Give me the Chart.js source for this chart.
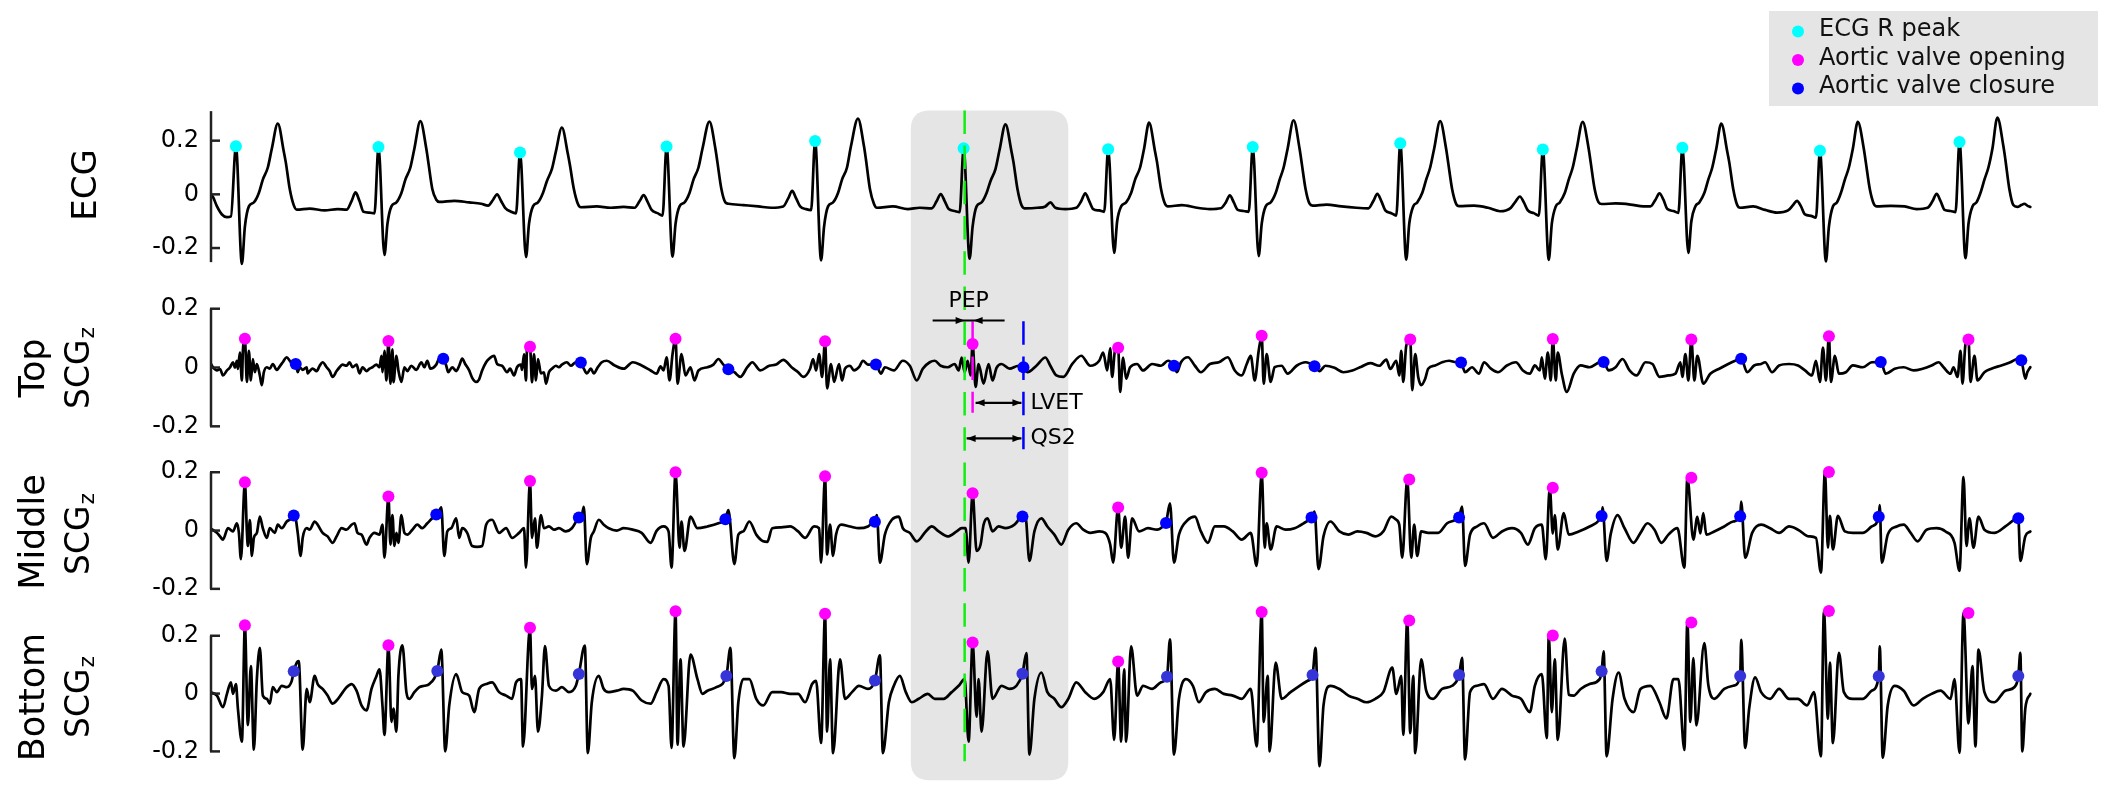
<!DOCTYPE html>
<html><head><meta charset="utf-8">
<script src="https://cdn.jsdelivr.net/npm/chart.js@4.4.1/dist/chart.umd.min.js"></script>
<style>html,body{margin:0;padding:0;background:#fff;overflow:hidden}#wrap{width:2126px;height:804px;position:relative}</style>
</head><body><div id="wrap"><canvas id="c" width="2126" height="804"></canvas></div>
<script>
// ---------------- DATA (time in samples, amplitude in signal units) ----------------
const sampleRange = [0, 1916];
const tickValues = [-0.2, 0, 0.2];
const panelNames = ['ECG', 'Top', 'Middle', 'Bottom'];
const legendLabels = ['ECG R peak', 'Aortic valve opening', 'Aortic valve closure'];
const annotationLabels = ['PEP', 'LVET', 'QS2'];

const rPeakSamples = [26,169,311,458,607,756,901,1046,1194,1337,1477,1615,1755];
const rPeakValues  = [.179,.176,.156,.178,.199,.172,.168,.176,.190,.167,.174,.162,.195];

const topAoSamples = [35,179,321,467,617,765,911,1055,1204,1347,1486,1624,1764];
const topAoValues  = [.098,.090,.071,.098,.089,.080,.067,.108,.095,.097,.095,.106,.095];
const topAcSamples = [86,234,372,520,668,816,967,1108,1255,1398,1536,1676,1817];
const topAcValues  = [.012,.030,.017,-.006,.010,.001,.006,.004,.017,.019,.030,.019,.025];

const midAoSamples = [35,179,321,467,617,765,911,1055,1203,1347,1486,1624];
const midAoValues  = [.166,.117,.170,.200,.186,.128,.079,.198,.175,.147,.181,.201];
const midAcSamples = [84,227,370,517,667,815,959,1105,1253,1396,1535,1674,1814];
const midAcValues  = [.052,.055,.045,.039,.030,.048,.026,.045,.045,.050,.049,.047,.042];

const botAoSamples = [35,179,321,467,617,765,911,1055,1203,1347,1486,1624,1764];
const botAoValues  = [.236,.167,.228,.285,.276,.177,.111,.282,.253,.201,.246,.286,.279];
const botAcSamples = [84,228,370,518,667,815,960,1106,1253,1396,1535,1674,1814];
const botAcValues  = [.077,.078,.068,.061,.045,.069,.058,.064,.064,.077,.061,.060,.061];

const ecgSignal = [
[0,0],[3,-.01],[7,-.045],[12,-.075],[17,-.085],[21,-.082],
[26,.179],[32,-.259],[35,-.12],[39,-.045],[44,-.03],[49,.005],[53,.055],[58,.10],[62,.17],[68,.264],[74,.16],[76,.12],[80,.02],[84,-.04],[87,-.057],[100,-.053],[115,-.06],[128,-.055],[137,-.057],[142,-.025],[146,.007],[150,-.025],[154,-.065],[160,-.068],[165,-.071],
[169,.176],[175,-.226],[178,-.11],[182,-.045],[187,-.03],[192,.005],[196,.055],[201,.10],[205,.17],[211,.273],[217,.17],[219,.12],[223,.02],[227,-.02],[230,-.028],[245,-.024],[260,-.03],[272,-.035],[279,-.042],[284,-.02],[288,0],[292,-.025],[296,-.05],[302,-.065],[307,-.071],
[311,.156],[317,-.234],[320,-.11],[324,-.045],[329,-.03],[334,.005],[338,.05],[343,.095],[347,.16],[353,.249],[359,.15],[361,.11],[365,.02],[369,-.035],[372,-.048],[388,-.045],[402,-.05],[415,-.047],[426,-.05],[431,-.025],[435,-.003],[439,-.028],[443,-.058],[449,-.07],[454,-.079],
[458,.178],[464,-.232],[467,-.11],[471,-.045],[476,-.03],[481,.005],[485,.055],[490,.10],[494,.17],[501,.271],[507,.17],[509,.12],[513,.02],[517,-.03],[520,-.035],[535,-.04],[550,-.045],[563,-.05],[575,-.045],[580,-.015],[584,.013],[588,-.015],[592,-.045],[598,-.055],[603,-.059],
[607,.199],[613,-.246],[616,-.12],[620,-.045],[625,-.03],[630,.005],[634,.055],[639,.10],[643,.18],[650,.282],[656,.18],[658,.13],[662,.02],[666,-.035],[669,-.05],[685,-.045],[700,-.055],[712,-.05],[724,-.052],[729,-.025],[733,.001],[737,-.025],[741,-.055],[747,-.062],[752,-.066],
[756,.172],[762,-.24],[765,-.12],[769,-.045],[774,-.03],[779,.005],[783,.05],[788,.095],[792,.165],[798,.261],[804,.16],[806,.12],[810,.02],[814,-.04],[817,-.052],[830,-.05],[838,-.045],[843,-.03],[848,-.05],[858,-.055],[869,-.05],[874,-.025],[878,.004],[882,-.025],[886,-.055],[892,-.06],[897,-.065],
[901,.168],[907,-.218],[910,-.1],[914,-.045],[919,-.03],[924,.005],[928,.055],[933,.10],[937,.17],[942,.267],[948,.16],[950,.12],[954,.02],[958,-.035],[961,-.045],[975,-.04],[990,-.05],[1003,-.055],[1014,-.052],[1019,-.03],[1023,-.004],[1027,-.03],[1031,-.058],[1037,-.062],[1042,-.065],
[1046,.176],[1052,-.23],[1055,-.11],[1059,-.045],[1064,-.03],[1069,.005],[1073,.055],[1077,.10],[1081,.17],[1087,.276],[1093,.17],[1095,.12],[1099,.02],[1103,-.035],[1106,-.042],[1120,-.038],[1135,-.045],[1150,-.05],[1162,-.052],[1167,-.025],[1171,.002],[1175,-.025],[1179,-.06],[1185,-.07],[1190,-.079],
[1194,.19],[1200,-.243],[1203,-.11],[1207,-.045],[1211,-.03],[1216,.005],[1220,.055],[1224,.10],[1228,.17],[1234,.273],[1240,.17],[1242,.12],[1246,.02],[1250,-.035],[1253,-.044],[1268,-.042],[1282,-.05],[1294,-.063],[1300,-.06],[1305,-.05],[1310,-.025],[1314,-.008],[1318,-.03],[1322,-.06],[1328,-.07],[1333,-.079],
[1337,.167],[1343,-.244],[1346,-.11],[1350,-.045],[1354,-.03],[1359,.005],[1363,.055],[1367,.10],[1371,.17],[1377,.27],[1383,.17],[1385,.12],[1389,.02],[1393,-.03],[1396,-.036],[1410,-.034],[1425,-.038],[1438,-.045],[1445,-.045],[1450,-.02],[1454,.004],[1458,-.02],[1462,-.055],[1468,-.062],[1473,-.069],
[1477,.174],[1483,-.218],[1486,-.1],[1490,-.045],[1494,-.03],[1499,.005],[1503,.055],[1507,.10],[1511,.17],[1516,.264],[1522,.16],[1524,.12],[1528,.02],[1532,-.04],[1535,-.05],[1548,-.045],[1560,-.058],[1572,-.068],[1583,-.06],[1588,-.04],[1592,-.024],[1596,-.045],[1600,-.075],[1606,-.08],[1611,-.087],
[1615,.162],[1621,-.25],[1624,-.12],[1628,-.045],[1632,-.03],[1636,.005],[1640,.055],[1644,.10],[1648,.17],[1653,.27],[1659,.17],[1661,.12],[1665,.02],[1669,-.035],[1672,-.045],[1686,-.043],[1700,-.045],[1712,-.055],[1723,-.05],[1728,-.025],[1732,.002],[1736,-.025],[1740,-.058],[1746,-.062],[1751,-.066],
[1755,.195],[1761,-.238],[1764,-.11],[1768,-.045],[1772,-.03],[1776,.005],[1780,.055],[1784,.10],[1788,.17],[1793,.286],[1799,.18],[1801,.13],[1805,.02],[1809,-.04],[1813,-.047],[1817,-.04],[1820,-.035],[1823,-.042],[1826,-.047]
];

const topScgSignal = [
[0,.018],[3,.001],[7,-.01],[10,-.005],[13,-.027],[17,-.01],[20,0],[23,.018],[25,0],[27,.023],[28,-.005],[30,.051],[32,-.044],[33,.057],[35,.098],[37,-.049],[39,.057],[41,-.044],[43,.029],[45,-.016],[47,.012],[50,-.027],[52,-.06],[54,-.016],[57,.001],[60,-.004],[63,.012],[67,-.008],[70,.004],[73,.018],[77,.035],[80,.023],[83,.01],[86,.012],[88,-.016],[90,.001],[93,-.008],[97,.001],[98,-.02],[100,-.012],[103,-.004],[107,-.012],[110,.006],[113,.018],[117,.001],[120,-.012],[123,-.032],[127,-.012],[130,.001],[133,.01],[137,.006],[140,.018],[143,.001],[147,.01],[150,-.02],[153,.001],[157,-.012],[160,-.004],[163,.001],[167,.01],[170,.001],
[172,.04],[173,-.016],[175,.057],[177,-.044],[179,.09],[181,-.055],[183,.062],[184,-.05],[187,.04],[189,-.01],[192,-.049],[195,.001],[198,-.012],[202,.006],[207,-.008],[212,.018],[215,.001],[218,.023],[221,-.004],[227,.01],[230,.03],[234,.03],[237,.006],[239,-.016],[243,.001],[247,-.012],[250,.006],[253,.03],[256,.012],[260,-.01],[263,-.035],[267,-.049],[270,-.04],[273,-.01],[277,.018],[280,.03],[285,.04],[288,.012],[293,.006],[298,-.016],[301,-.004],[305,-.027],[308,.001],[312,.01],[313,-.008],[315,.045],[317,-.044],[318,.062],[321,.071],[323,-.05],[325,.045],[327,-.044],[329,.029],[332,-.02],[335,-.016],[337,-.055],[340,-.016],[343,-.004],[347,.006],[350,.001],[353,.01],[358,.018],[362,.006],[367,.018],[372,.016],[375,-.004],[378,-.02],[382,-.004],[385,-.02],[389,.001],[393,.018],[398,.023],[406,.007],[415,-.004],[424,.018],[433,.007],[442,-.01],[448,-.021],[452,.004],[455,-.01],[458,.035],[461,-.044],[464,.046],[467,.098],[469,-.055],[473,.046],[477,-.027],[482,.001],[486,-.044],[490,-.01],[499,.001],[505,.01],[510,.029],[515,.01],[520,-.006],[526,-.016],[532,-.032],[539,.001],[544,.018],[552,-.01],[561,.006],[568,.01],[575,.026],[584,-.001],[590,-.016],[595,-.032],[602,-.004],[605,.029],[608,-.01],[611,.046],[614,-.032],[617,.089],[619,-.071],[623,.012],[626,-.049],[631,.012],[634,-.044],[637,-.004],[642,.006],[646,-.01],[651,.001],[655,.023],[660,.01],[668,.01],[673,-.021],[677,.001],[686,-.01],[695,.023],[702,.006],[709,-.044],[715,-.004],[722,.018],[727,.023],[733,.006],[740,.001],[747,.012],[751,-.01],[754,.034],[757,-.016],[760,.023],[763,-.027],[765,.08],[768,-.066],[771,.012],[776,-.055],[781,.012],[785,-.044],[789,-.001],[794,.012],[802,-.004],[811,.006],[816,.001],[820,-.016],[829,.006],[838,.034],[843,.006],[849,-.027],[856,-.032],[865,.012],[874,.04],[883,.006],[892,.023],[896,.051],[900,-.01],[903,.065],[905,-.032],[908,.062],[911,.067],[913,-.083],[916,.034],[919,-.038],[923,.001],[930,.012],[936,-.01],[945,.012],[954,.006],[961,.023],[967,.006],[970,-.016],[974,.018],[981,.035],[988,.006],[994,-.016],[1003,.012],[1012,.018],[1021,.035],[1028,-.01],[1035,-.027],[1040,.012],[1044,.04],[1048,-.044],[1052,.057],[1055,.108],[1057,-.055],[1060,.046],[1064,-.049],[1068,.001],[1075,.006],[1081,-.021],[1090,.006],[1099,.018],[1108,.004],[1113,-.012],[1119,.006],[1128,-.001],[1137,-.016],[1146,-.01],[1155,.003],[1164,.015],[1173,.006],[1180,.027],[1184,-.005],
[1190,.023],[1193,-.027],[1195,.057],[1197,-.049],[1200,.074],[1204,.095],[1206,-.077],[1209,.046],[1212,-.032],[1215,-.06],[1219,-.038],[1222,-.004],[1229,.007],[1236,.018],[1243,.023],[1250,.018],[1255,.017],[1259,-.016],[1266,.001],[1273,-.021],[1278,.018],[1285,-.004],[1292,-.016],[1301,.007],[1310,.018],[1317,-.01],[1324,-.021],[1329,.007],[1334,-.01],[1336,.035],[1339,-.038],[1342,.051],[1345,-.044],[1347,.097],[1350,-.044],[1352,.051],[1356,-.021],[1361,-.083],[1368,-.021],[1375,.007],[1384,.001],[1394,.018],[1398,.019],[1403,-.01],[1410,.001],[1417,.029],[1424,-.01],[1431,-.027],[1440,.018],[1447,.012],[1454,-.032],[1463,-.027],[1470,-.021],[1475,.018],[1477,-.032],[1480,.046],[1483,-.044],[1486,.095],[1489,-.044],[1492,.04],[1498,-.055],[1505,-.021],[1514,-.004],[1523,.012],[1530,.023],[1536,.03],[1542,-.016],[1549,.007],[1556,.012],[1560,.018],[1567,-.016],[1574,.007],[1584,.012],[1593,.007],[1600,-.01],[1607,-.027],[1611,.023],[1615,-.049],[1618,.068],[1621,-.044],[1624,.106],[1626,-.049],[1630,.04],[1634,-.021],[1641,-.016],[1648,.007],[1658,.001],[1667,.018],[1676,.019],[1681,-.021],[1690,-.004],[1699,.001],[1709,-.01],[1718,-.004],[1727,.007],[1734,.018],[1739,.001],[1746,-.021],[1749,.001],[1753,-.032],[1756,.057],[1758,-.055],[1761,.079],[1764,.095],[1766,-.049],[1770,.04],[1773,-.044],[1780,-.016],[1787,-.004],[1797,.007],[1806,.018],[1813,.029],[1817,.025],[1821,-.038],[1823,-.016],[1826,.001]
];

const midScgSignal = [
[0,.008],[4,0],[7,-.008],[10,-.02],[13,-.031],[18,.008],[23,-.003],[27,.025],[29,-.008],[31,-.098],[35,.166],[37,-.003],[38,-.053],[40,.036],[42,-.087],[44,-.025],[47,-.008],[50,.048],[53,.008],[57,-.025],[60,.008],[65,-.008],[68,.02],[72,.008],[77,.031],[82,.042],[84,.052],[86,.04],[88,-.008],[91,-.087],[93,-.025],[97,.008],[100,.003],[105,.031],[108,.02],[113,-.008],[118,-.02],[123,-.042],[127,-.02],[132,.008],[137,.003],[142,.02],[145,.025],[148,-.008],[152,-.014],[157,-.048],[160,-.025],[165,-.008],[170,-.014],[173,.02],[175,-.093],[179,.117],[181,-.048],[183,.053],[185,-.053],[187,-.008],[189,-.042],[192,.053],[195,-.008],[198,-.014],[203,.003],[208,.02],[213,.008],[218,.025],[223,.042],[227,.055],[229,.06],[232,.08],[235,-.087],[238,-.003],[242,.008],[247,.042],[250,-.025],[253,.008],[258,-.008],[263,-.053],[268,-.056],[273,-.053],[277,.02],[283,.037],[290,-.008],[297,.008],[303,-.025],[310,-.008],[315,.008],[317,-.127],[321,.17],[323,-.025],[326,.042],[328,-.059],[332,.053],[335,.008],[340,.014],[345,.003],[350,.008],[357,-.003],[363,.008],[370,.045],[373,.053],[375,.081],[378,-.115],[382,-.025],[385,-.003],[390,.037],[395,.02],[400,.008],[408,0],[415,.008],[424,.003],[433,-.008],[442,-.042],[448,-.001],[455,.014],[460,-.003],[463,-.127],[467,.2],[471,-.059],[473,.031],[476,-.07],[482,.048],[489,.008],[499,.014],[510,.025],[517,.039],[520,.07],[526,-.115],[530,-.014],[535,-.003],[541,.031],[548,-.014],[555,-.037],[559,-.039],[564,.008],[573,.011],[582,.014],[590,-.003],[597,-.025],[606,.014],[611,.008],[613,-.11],[617,.186],[619,-.082],[622,.02],[625,-.087],[628,-.014],[633,.02],[642,.014],[651,.008],[660,.014],[664,.025],[667,.03],[669,.053],[672,-.11],[677,-.014],[684,.037],[691,.048],[695,.008],[702,-.008],[709,-.037],[718,-.003],[724,.014],[731,-.003],[740,-.02],[749,-.003],[754,.008],[758,.008],[761,-.11],[765,.128],[769,-.07],[773,-.048],[776,.02],[780,.042],[785,-.003],[791,.014],[798,.008],[807,.02],[815,.048],[818,.048],[822,-.104],[827,-.003],[834,.042],[840,.014],[847,-.014],[854,-.048],[861,.003],[869,.025],[876,.003],[883,-.008],[892,-.003],[898,-.008],[903,-.048],[906,-.11],[911,.079],[914,-.059],[918,.048],[921,-.093],[925,.042],[932,-.003],[941,.008],[950,.003],[956,.014],[959,.026],[963,.093],[967,-.11],[972,-.014],[981,.037],[988,.048],[994,-.003],[1001,-.042],[1008,.014],[1017,.014],[1026,-.003],[1035,-.031],[1044,-.008],[1050,-.121],[1055,.198],[1058,-.059],[1060,.025],[1064,-.065],[1070,.014],[1079,.003],[1088,.008],[1097,.025],[1105,.045],[1108,.065],[1112,-.132],[1117,-.02],[1124,.031],[1133,-.003],[1142,-.014],[1151,-.003],[1160,-.008],[1169,-.02],[1177,-.003],[1185,.048],
[1190,.037],[1193,.02],[1196,-.093],[1201,.175],[1205,-.093],[1208,.02],[1211,-.087],[1215,-.003],[1222,-.008],[1232,-.008],[1241,.025],[1250,.037],[1253,.045],[1256,.082],[1259,-.121],[1264,-.014],[1271,.014],[1278,.025],[1287,-.025],[1296,-.003],[1306,.008],[1315,-.008],[1322,-.048],[1329,.008],[1336,.02],[1340,-.098],[1344,.147],[1347,-.01],[1349,.053],[1352,-.065],[1358,.06],[1363,-.014],[1373,-.003],[1384,.014],[1394,.037],[1396,.05],[1397,.08],[1401,-.104],[1405,-.014],[1412,.053],[1419,.008],[1428,-.042],[1435,-.008],[1442,.025],[1449,.003],[1456,-.042],[1463,-.014],[1472,.008],[1479,-.127],[1482,.181],[1488,-.031],[1492,.047],[1495,-.01],[1498,.06],[1501,-.014],[1509,-.003],[1519,.014],[1528,.031],[1535,.049],[1536,.099],[1540,-.093],[1547,-.008],[1556,.02],[1565,.008],[1574,-.008],[1584,.014],[1593,.003],[1604,-.02],[1611,-.025],[1616,-.144],[1620,.201],[1623,-.059],[1625,.05],[1628,-.065],[1633,.05],[1640,-.003],[1648,-.008],[1658,-.008],[1667,.014],[1674,.047],[1675,.087],[1677,-.11],[1683,-.014],[1692,.014],[1699,.02],[1706,-.008],[1713,-.037],[1722,.003],[1732,.008],[1741,-.003],[1750,-.042],[1755,-.138],[1759,.183],[1762,-.053],[1765,.042],[1769,-.059],[1774,.048],[1780,.003],[1790,-.008],[1801,.014],[1810,.037],[1814,.042],[1816,-.104],[1821,-.02],[1826,-.003]
];

const botScgSignal = [
[0,.005],[7,-.007],[13,-.047],[17,-.001],[21,.039],[23,-.001],[26,.033],[28,-.052],[32,-.166],[35,.236],[38,-.109],[41,.095],[44,-.194],[47,.05],[50,.158],[53,-.007],[57,-.018],[60,-.035],[63,.022],[67,.005],[72,.027],[77,.022],[82,.044],[84,.077],[87,.107],[89,.112],[93,-.194],[97,.016],[100,-.03],[105,.061],[108,.033],[113,.016],[118,-.007],[123,-.035],[127,-.024],[132,-.001],[137,.022],[142,.033],[147,.01],[152,-.041],[157,-.058],[162,.016],[167,.061],[170,.084],[173,-.041],[175,-.143],[179,.167],[182,-.098],[184,-.052],[187,-.132],[189,.061],[193,.167],[197,.005],[200,-.018],[205,.005],[210,.022],[215,.027],[220,.033],[228,.078],[232,.152],[236,-.2],[240,-.041],[247,.067],[253,.005],[260,-.007],[265,-.064],[270,.016],[277,.033],[283,.039],[290,.005],[297,-.007],[303,-.018],[307,.039],[312,.05],[314,-.183],[321,.228],[323,.016],[326,.061],[329,-.132],[333,-.007],[336,.164],[340,.027],[347,.01],[353,.022],[360,.005],[367,.027],[370,.068],[376,.166],[379,-.206],[383,-.03],[390,.061],[395,.016],[400,.005],[408,.01],[415,.016],[424,.01],[433,-.024],[442,-.035],[448,.005],[455,.05],[460,.027],[463,-.188],[467,.285],[469,-.177],[472,.118],[475,-.183],[482,.135],[489,.05],[494,-.001],[499,.01],[508,.022],[518,.061],[522,.158],[526,-.223],[530,-.03],[535,.05],[541,.05],[548,-.018],[555,-.041],[564,.005],[573,.005],[582,-.001],[590,-.001],[597,-.03],[604,.033],[608,.044],[613,-.171],[617,.276],[619,-.132],[622,.118],[625,-.206],[632,.118],[637,-.018],[644,.005],[651,.027],[660,.016],[667,.045],[672,.132],[675,-.206],[681,-.03],[686,.027],[692,.061],[698,.005],[704,-.03],[711,-.018],[720,-.001],[727,-.018],[736,-.018],[744,.005],[751,.027],[757,.05],[761,-.166],[765,.177],[769,-.08],[771,.05],[774,-.132],[780,.146],[785,-.018],[794,.027],[802,.016],[809,.027],[815,.069],[819,.14],[822,-.211],[827,-.018],[834,.073],[840,.005],[847,-.018],[854,-.047],[861,-.018],[869,.039],[878,.005],[887,-.018],[896,.005],[903,.05],[907,-.16],[911,.111],[914,-.166],[917,.084],[919,-.166],[924,.163],[930,-.007],[936,.027],[945,.016],[954,.039],[960,.058],[963,.188],[967,-.211],[972,-.018],[979,.05],[986,.027],[992,-.03],[999,.005],[1008,.016],[1017,-.001],[1026,-.007],[1035,-.018],[1044,.016],[1050,-.183],[1055,.282],[1057,-.098],[1061,.061],[1063,-.2],[1069,.107],[1075,-.018],[1084,.005],[1093,.027],[1101,.044],[1106,.064],[1109,.158],[1113,-.251],[1117,-.041],[1124,.027],[1133,.016],[1142,-.007],[1151,-.018],[1160,-.03],[1169,-.018],[1177,.005],[1186,.09],
[1190,-.001],[1195,.061],[1197,-.143],[1201,.253],[1204,-.137],[1207,.061],[1209,-.206],[1215,.118],[1220,.01],[1227,-.018],[1236,.016],[1246,.027],[1253,.064],[1256,.124],[1259,-.228],[1264,.005],[1271,.027],[1278,.033],[1287,-.018],[1296,.016],[1306,-.007],[1315,-.018],[1324,-.064],[1329,.027],[1336,.067],[1341,-.154],[1343,.2],[1346,-.064],[1349,.118],[1352,-.16],[1359,.19],[1363,-.004],[1368,-.007],[1375,.016],[1384,.033],[1394,.05],[1396,.077],[1398,.146],[1401,-.217],[1407,-.018],[1413,.073],[1419,-.018],[1428,-.064],[1435,.016],[1445,.027],[1454,-.03],[1461,-.086],[1468,.05],[1473,.05],[1479,-.195],[1482,.248],[1485,-.098],[1488,.123],[1491,-.11],[1499,.175],[1503,.03],[1509,-.018],[1519,.016],[1528,.027],[1535,.061],[1536,.186],[1540,-.188],[1544,-.052],[1550,.056],[1556,.005],[1565,-.018],[1574,.016],[1584,-.018],[1593,-.018],[1602,-.041],[1609,.005],[1616,-.217],[1619,.285],[1623,-.087],[1625,.107],[1628,-.171],[1634,.141],[1639,.005],[1648,-.018],[1658,-.018],[1667,.01],[1674,.06],[1675,.163],[1678,-.222],[1683,-.041],[1690,.027],[1699,.01],[1709,-.041],[1718,-.018],[1727,-.001],[1736,.01],[1746,-.018],[1750,.05],[1755,-.205],[1759,.279],[1764,-.103],[1768,.095],[1771,-.183],[1774,.152],[1780,.005],[1790,-.03],[1801,.01],[1810,.022],[1814,.061],[1816,.141],[1818,-.2],[1821,-.052],[1826,-.001]
];

// annotated beat and highlighted window (samples)
const annotatedBeat = 5;
const windowSamples = [703, 861];

// ---------------- LAYOUT / STYLE ----------------
const FONT = "'DejaVu Sans', 'Liberation Sans', sans-serif";
const H = 804;
const panels = {
  yECG: {zero: 191.2, k: 272.5, spine: [-0.2525, 0.31]},
  yTop: {zero: 367,   k: 298.5, spine: [-0.2, 0.2]},
  yMid: {zero: 532.5, k: 296,   spine: [-0.2, 0.2]},
  yBot: {zero: 698,   k: 293.5, spine: [-0.2, 0.2]}
};
const COL = {cyan: '#00ffff', mag: '#ff00ff', blue: '#0000ff', blueB: '#3434d8', green: '#11ee11', gray: '#e5e5e5', axis: '#222222'};

function fmt(v) { return Math.abs(v) < 1e-9 ? '0' : v.toFixed(1); }
function yAxis(id) {
  const p = panels[id];
  return {
    type: 'linear', position: 'left', min: (p.zero - H) / p.k, max: p.zero / p.k,
    grid: {display: false, drawTicks: false}, border: {display: false},
    afterBuildTicks: s => { s.ticks = tickValues.map(v => ({value: v})); },
    afterFit: s => { s.width = 0; s.paddingTop = 0; s.paddingBottom = 0; s._computeLabelArea = () => null; },
    ticks: {padding: 11, color: '#000', font: {family: FONT, size: 24}, callback: v => fmt(v), autoSkip: false}
  };
}
function lineDs(data, axis) {
  return {type: 'line', data, yAxisID: axis, xAxisID: 'x', borderColor: '#000', borderWidth: 2.7,
    pointRadius: 0, cubicInterpolationMode: 'monotone', fill: false, order: 2,
    borderJoinStyle: 'round', borderCapStyle: 'round'};
}
function markDs(xs, ys, axis, color) {
  return {type: 'line', showLine: false, data: xs.map((x, i) => [x, ys[i]]), yAxisID: axis, xAxisID: 'x',
    pointRadius: 6, pointBackgroundColor: color, pointBorderColor: color, pointBorderWidth: 0, order: 1};
}

function arrowHead(ctx, x, y, dir) {
  ctx.beginPath(); ctx.moveTo(x, y); ctx.lineTo(x - dir * 9, y - 3.5); ctx.lineTo(x - dir * 9, y + 3.5); ctx.closePath(); ctx.fill();
}
function vText(ctx, text, bx, cy, size) {
  ctx.save(); ctx.translate(bx, cy); ctx.rotate(-Math.PI / 2);
  ctx.font = size + 'px ' + FONT; ctx.textAlign = 'center'; ctx.textBaseline = 'alphabetic';
  ctx.fillText(text, 0, 0); ctx.restore();
}
function vScg(ctx, bx, cy) {
  ctx.save();
  ctx.font = '33px ' + FONT; const w1 = ctx.measureText('SCG').width;
  ctx.font = '22px ' + FONT; const w2 = ctx.measureText('z').width;
  const tot = w1 + w2 + 1;
  ctx.translate(bx, cy); ctx.rotate(-Math.PI / 2);
  ctx.textAlign = 'left'; ctx.textBaseline = 'alphabetic';
  ctx.font = '33px ' + FONT; ctx.fillText('SCG', -tot / 2, 0);
  ctx.font = '22px ' + FONT; ctx.fillText('z', -tot / 2 + w1 + 1, 5);
  ctx.restore();
}

const decor = {
  id: 'decor',
  beforeDatasetsDraw(chart) {
    const {ctx, scales} = chart; const sx = scales.x;
    const x1 = sx.getPixelForValue(windowSamples[0]), x2 = sx.getPixelForValue(windowSamples[1]);
    const y1 = scales.yECG.getPixelForValue(0.3127), y2 = scales.yBot.getPixelForValue(-0.30);
    const r = 19;
    ctx.save(); ctx.fillStyle = COL.gray; ctx.beginPath();
    ctx.moveTo(x1 + r, y1); ctx.lineTo(x2 - r, y1); ctx.quadraticCurveTo(x2, y1, x2, y1 + r);
    ctx.lineTo(x2, y2 - r); ctx.quadraticCurveTo(x2, y2, x2 - r, y2); ctx.lineTo(x1 + r, y2);
    ctx.quadraticCurveTo(x1, y2, x1, y2 - r); ctx.lineTo(x1, y1 + r); ctx.quadraticCurveTo(x1, y1, x1 + r, y1);
    ctx.closePath(); ctx.fill(); ctx.restore();
  },
  afterDatasetsDraw(chart) {
    const {ctx, scales} = chart; const sx = scales.x, yT = scales.yTop;
    const b = annotatedBeat;
    const xR = sx.getPixelForValue(rPeakSamples[b]) + 1;
    const xO = sx.getPixelForValue(topAoSamples[b]);
    const xC = sx.getPixelForValue(topAcSamples[b]);
    ctx.save(); ctx.lineWidth = 2.5; ctx.setLineDash([23.5, 11.7]);
    const dash = (x, ya, yb, c) => { ctx.strokeStyle = c; ctx.beginPath(); ctx.moveTo(x, ya); ctx.lineTo(x, yb); ctx.stroke(); };
    dash(xR, scales.yECG.getPixelForValue(0.3127), scales.yBot.getPixelForValue(-0.234), COL.green);
    dash(xO, yT.getPixelForValue(0.157), yT.getPixelForValue(-0.154), COL.mag);
    dash(xC, yT.getPixelForValue(0.157), yT.getPixelForValue(-0.278), COL.blue);
    ctx.restore();
    ctx.save(); ctx.strokeStyle = '#000'; ctx.fillStyle = '#000'; ctx.lineWidth = 2.2;
    const yP = yT.getPixelForValue(0.16), yL = yT.getPixelForValue(-0.12), yQ = yT.getPixelForValue(-0.241);
    ctx.beginPath(); ctx.moveTo(xR - 32, yP); ctx.lineTo(xO + 32, yP); ctx.stroke();
    arrowHead(ctx, xR, yP, 1); arrowHead(ctx, xO + 1, yP, -1);
    ctx.beginPath(); ctx.moveTo(xO + 3, yL); ctx.lineTo(xC - 2, yL); ctx.stroke();
    arrowHead(ctx, xO + 3, yL, -1); arrowHead(ctx, xC - 2, yL, 1);
    ctx.beginPath(); ctx.moveTo(xR + 2, yQ); ctx.lineTo(xC - 2, yQ); ctx.stroke();
    arrowHead(ctx, xR + 2, yQ, -1); arrowHead(ctx, xC - 2, yQ, 1);
    ctx.font = '22px ' + FONT; ctx.textBaseline = 'middle';
    ctx.textAlign = 'center'; ctx.fillText(annotationLabels[0], (xR + xO) / 2, yT.getPixelForValue(0.224));
    ctx.textAlign = 'left';
    ctx.fillText(annotationLabels[1], xC + 7, yL);
    ctx.fillText(annotationLabels[2], xC + 7, yQ);
    ctx.restore();
  },
  afterDraw(chart) {
    const {ctx, scales, chartArea} = chart;
    const x0 = chartArea.left + 1;
    ctx.save(); ctx.strokeStyle = COL.axis; ctx.lineWidth = 2.5; ctx.lineCap = 'butt';
    for (const id of Object.keys(panels)) {
      const s = scales[id], p = panels[id];
      ctx.beginPath(); ctx.moveTo(x0, s.getPixelForValue(p.spine[1])); ctx.lineTo(x0, s.getPixelForValue(p.spine[0])); ctx.stroke();
      for (const v of tickValues) {
        const y = s.getPixelForValue(v);
        ctx.beginPath(); ctx.moveTo(x0 - 1, y); ctx.lineTo(x0 + 9, y); ctx.stroke();
      }
    }
    ctx.restore();
    ctx.save(); ctx.fillStyle = '#000';
    vText(ctx, panelNames[0], 96, 185, 34);
    vText(ctx, panelNames[1], 44, 368, 35); vScg(ctx, 89, 368);
    vText(ctx, panelNames[2], 44, 532, 35); vScg(ctx, 89, 534);
    vText(ctx, panelNames[3], 44, 697, 35); vScg(ctx, 89, 697);
    ctx.restore();
    ctx.save();
    ctx.fillStyle = COL.gray; ctx.fillRect(1769, 11, 329, 95);
    const cols = [COL.cyan, COL.mag, COL.blue];
    const ys = [31.5, 60, 88.5];
    ctx.font = '24px ' + FONT; ctx.textAlign = 'left'; ctx.textBaseline = 'middle';
    legendLabels.forEach((t, i) => {
      ctx.fillStyle = cols[i]; ctx.beginPath(); ctx.arc(1798, ys[i], 6, 0, Math.PI * 2); ctx.fill();
      ctx.fillStyle = '#111'; ctx.fillText(t, 1819, ys[i] - 1.5);
    });
    ctx.restore();
  }
};

new Chart(document.getElementById('c'), {
  data: {
    datasets: [
      markDs(rPeakSamples, rPeakValues, 'yECG', COL.cyan),
      markDs(topAoSamples, topAoValues, 'yTop', COL.mag),
      markDs(topAcSamples, topAcValues, 'yTop', COL.blue),
      markDs(midAoSamples, midAoValues, 'yMid', COL.mag),
      markDs(midAcSamples, midAcValues, 'yMid', COL.blue),
      markDs(botAoSamples, botAoValues, 'yBot', COL.mag),
      markDs(botAcSamples, botAcValues, 'yBot', COL.blueB),
      lineDs(ecgSignal, 'yECG'),
      lineDs(topScgSignal, 'yTop'),
      lineDs(midScgSignal, 'yMid'),
      lineDs(botScgSignal, 'yBot')
    ]
  },
  options: {
    responsive: false, animation: false, devicePixelRatio: 1, events: [],
    layout: {padding: {left: 210, right: 0, top: 0, bottom: 0}},
    plugins: {legend: {display: false}, tooltip: {enabled: false}, title: {display: false}},
    scales: {
      x: {type: 'linear', min: sampleRange[0], max: sampleRange[1], display: false},
      yECG: yAxis('yECG'), yTop: yAxis('yTop'), yMid: yAxis('yMid'), yBot: yAxis('yBot')
    }
  },
  plugins: [decor]
});
</script>
</body></html>
